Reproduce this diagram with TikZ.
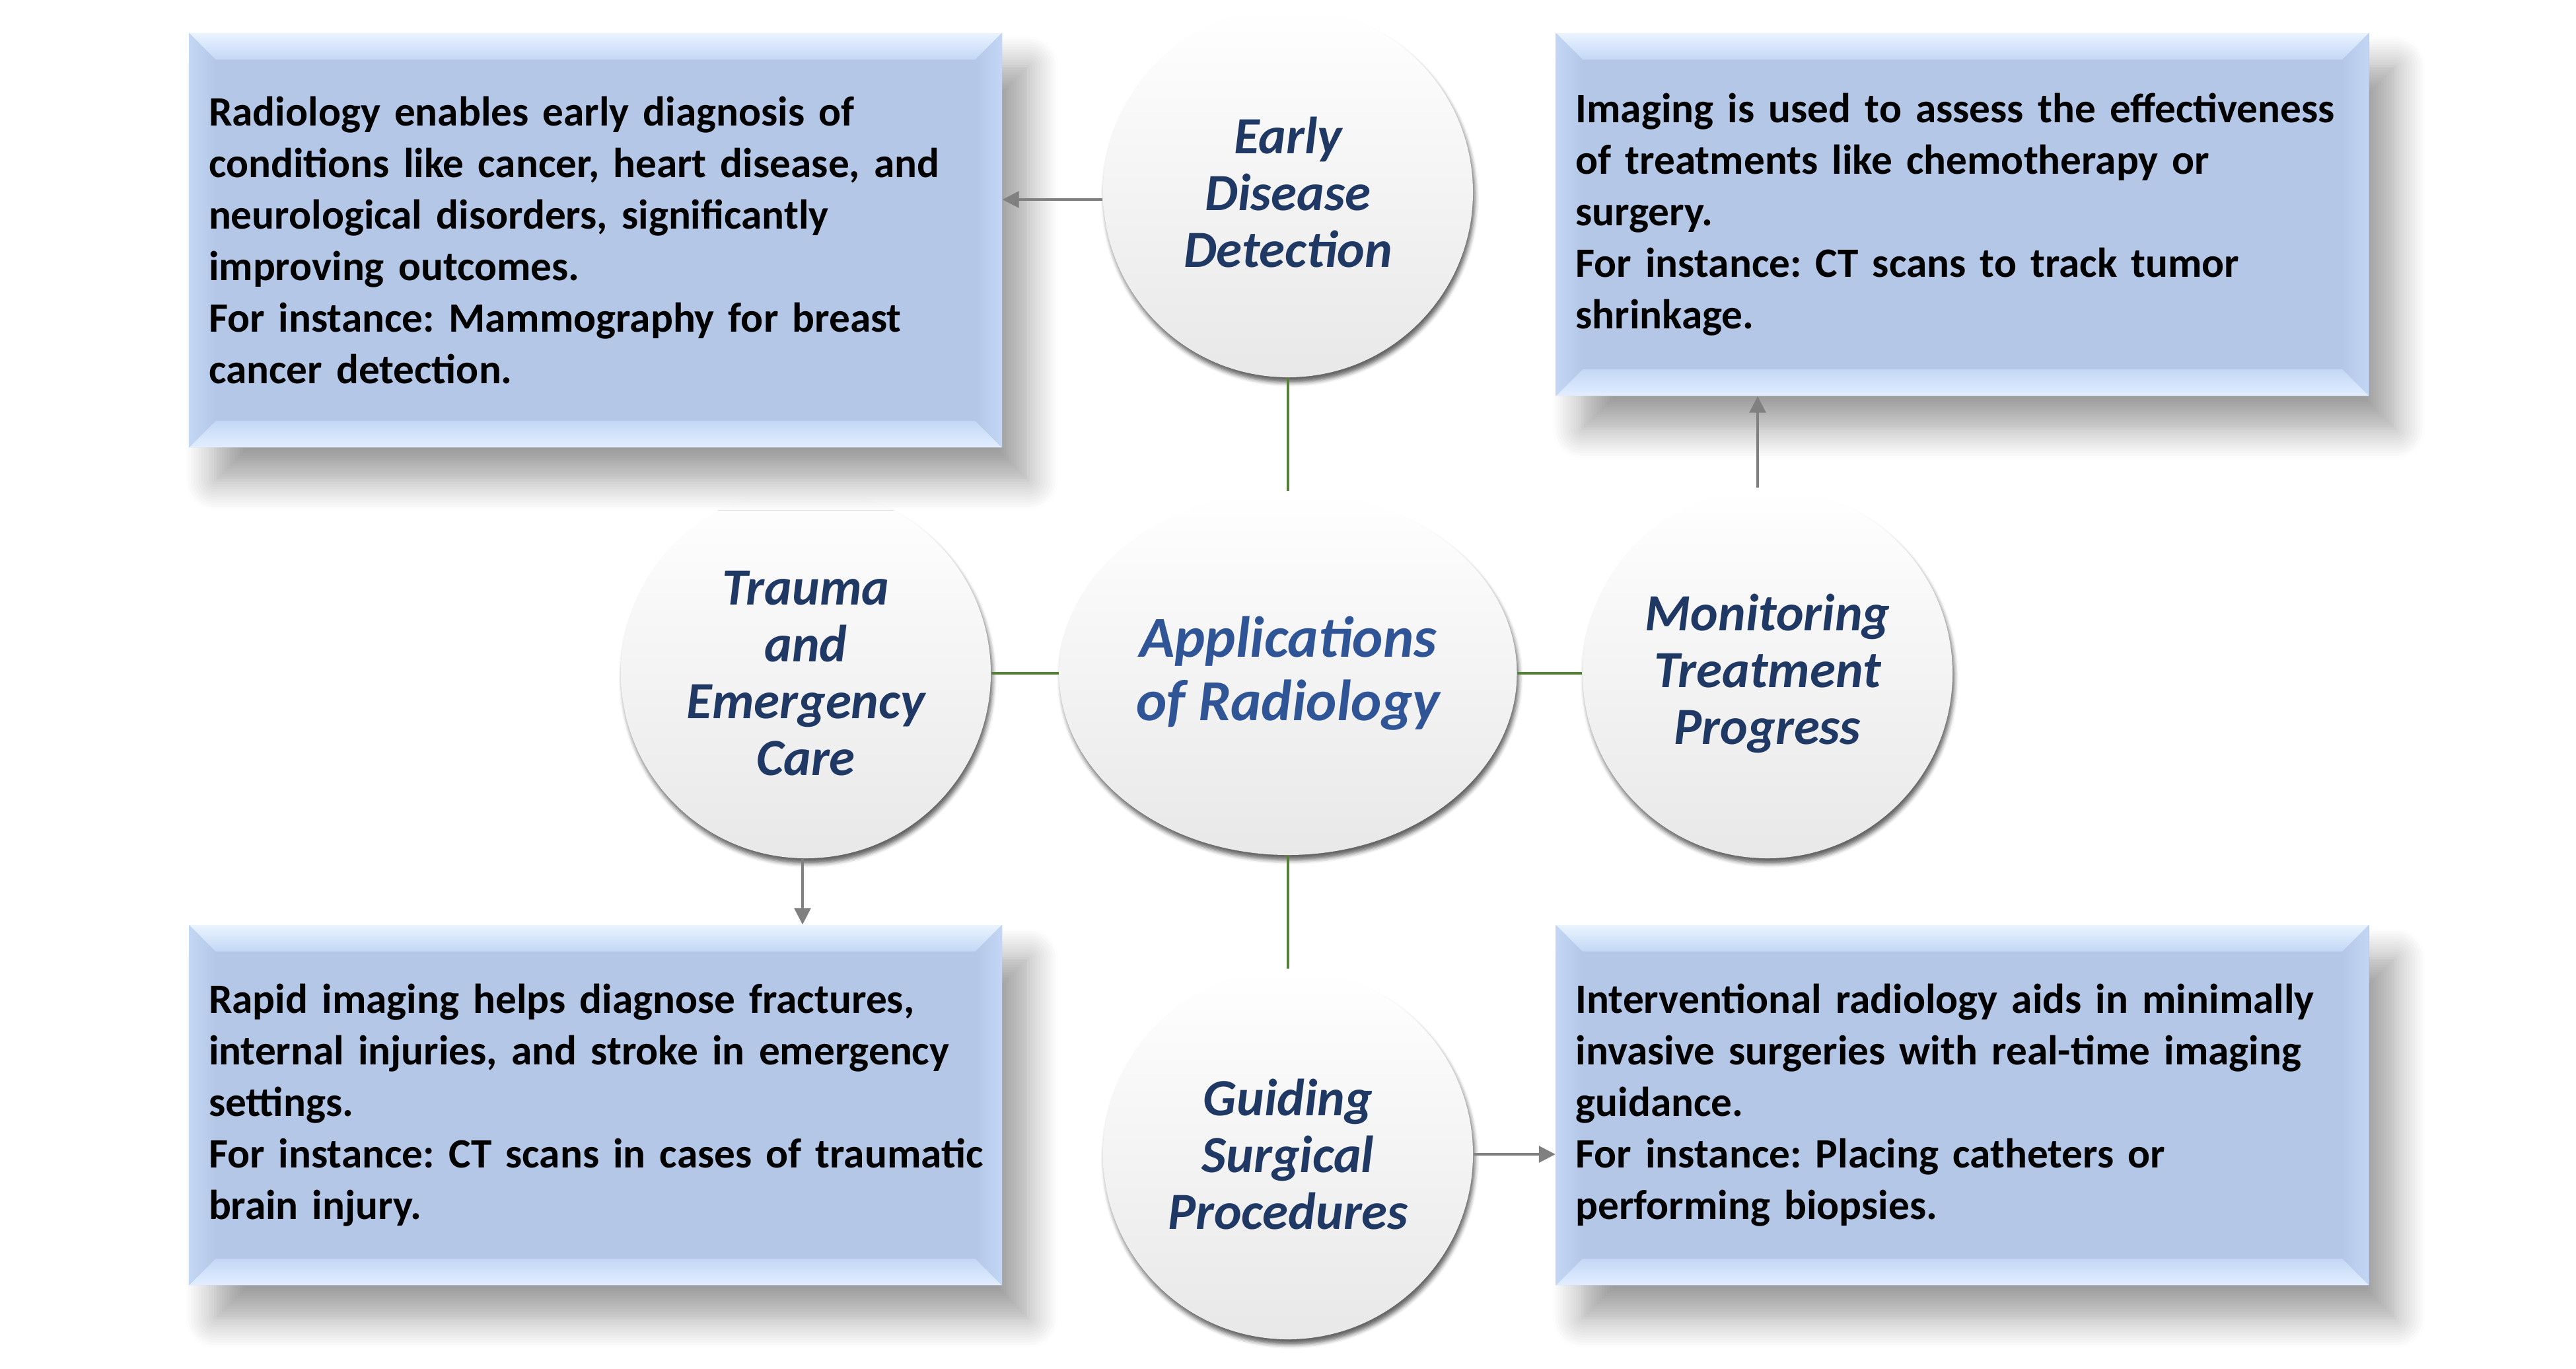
\documentclass[tikz,border=0pt]{standalone}
\usepackage{fontspec}
\setmainfont{Carlito}
\usetikzlibrary{shapes.geometric,arrows.meta,shadows.blur}
\definecolor{boxblue}{HTML}{B4C7E7}
\definecolor{bevtop}{HTML}{EAF4FF}
\definecolor{bevbot}{HTML}{E2EEFF}
\definecolor{bevside}{HTML}{C3D7F5}
\definecolor{navy}{HTML}{1F3864}
\definecolor{hubblue}{HTML}{2F5597}
\definecolor{linkgreen}{HTML}{548235}
\definecolor{arrgray}{HTML}{808080}
\tikzset{
  bubble/.style={circle, minimum size=5.6cm, inner sep=0pt, align=center,
    top color=white, middle color=white, bottom color=black!9,
    text=navy, font=\fontsize{22.5}{24.5}\selectfont\bfseries\itshape,
    blur shadow={shadow xshift=0.03cm, shadow yshift=-0.08cm, shadow blur radius=0.06cm, shadow opacity=60}},
  hubnode/.style={bubble, ellipse, minimum width=6.93cm, minimum height=5.5cm,
    text=hubblue, font=\fontsize{25}{27.5}\selectfont\bfseries\itshape},
  infobox/.style={rectangle, fill=boxblue, minimum width=12.31cm, inner xsep=0.3cm,
    text width=11.71cm, align=left, font=\fontsize{18}{22.2}\selectfont\bfseries,
    blur shadow={shadow xshift=0.4cm, shadow yshift=-0.5cm, shadow blur radius=0.45cm, shadow blur steps=12, shadow opacity=38},
    path picture={
      \path (path picture bounding box.north west) coordinate (pnw)
            (path picture bounding box.north east) coordinate (pne)
            (path picture bounding box.south west) coordinate (psw)
            (path picture bounding box.south east) coordinate (pse);
      \fill[top color=bevtop, bottom color=bevside] (pnw) -- (pne) -- ([shift={(-\bev,-\bev)}]pne) -- ([shift={(\bev,-\bev)}]pnw) -- cycle;
      \fill[top color=bevside, bottom color=bevbot] (psw) -- (pse) -- ([shift={(-\bev,\bev)}]pse) -- ([shift={(\bev,\bev)}]psw) -- cycle;
      \fill[left color=bevside, right color=boxblue] (pnw) -- ([shift={(\bev,-\bev)}]pnw) -- ([shift={(\bev,\bev)}]psw) -- (psw) -- cycle;
      \fill[left color=boxblue, right color=bevside] (pne) -- ([shift={(-\bev,-\bev)}]pne) -- ([shift={(-\bev,\bev)}]pse) -- (pse) -- cycle;
    }},
  link/.style={draw=linkgreen, line width=1.4pt},
  arr/.style={draw=arrgray, line width=0.9pt, -{Triangle[length=0.25cm, width=0.25cm]}}
}
\frenchspacing
\hfuzz=20pt
\begin{document}
\begin{tikzpicture}[line join=round]
		\def\bev{0.4cm}
		\def\cx{19.50} \def\cy{-10.19}
		\useasboundingbox (0,0) rectangle (39,-20.71);
		%\draw[gray!30] (0,0) grid (39,-21);
		\node[hubnode] (hub) at (\cx,\cy) {Applications\\of Radiology};
		\node[bubble] (early) at (\cx,-2.91) {Early\\Disease\\Detection};
		\node[bubble] (trauma) at (12.20,\cy) {Trauma\\and\\Emergency\\Care};
		\node[bubble] (monitor) at (26.76,\cy) {Monitoring\\Treatment\\Progress};
		\node[bubble] (guide) at (\cx,-17.47) {Guiding\\Surgical\\Procedures};
		\node[infobox, minimum height=6.27cm] (tl) at (9.015,-3.635) {Radiology enables early diagnosis of\\conditions like cancer, heart disease, and\\neurological disorders, significantly\\improving outcomes.\\For instance: Mammography for breast\\cancer detection.};
		\node[infobox, minimum height=5.49cm] (tr) at (29.71,-3.245) {Imaging is used to assess the effectiveness\\of treatments like chemotherapy or\\surgery.\\For instance: CT scans to track tumor\\shrinkage.};
		\node[infobox, minimum height=5.45cm] (bl) at (9.015,-16.725) {Rapid imaging helps diagnose fractures,\\internal injuries, and stroke in emergency\\settings.\\\mbox{For instance: CT scans in cases of traumatic}\\brain injury.};
		\node[infobox, minimum height=5.45cm] (br) at (29.71,-16.725) {Interventional radiology aids in minimally\\invasive surgeries with real-time imaging\\guidance.\\For instance: Placing catheters or\\performing biopsies.};
		\draw[link] (early) -- (hub);
		\draw[link] (trauma) -- (hub);
		\draw[link] (monitor) -- (hub);
		\draw[link] (guide) -- (hub);
		\draw[arr] ([yshift=-1.1mm]early.west) -- ([yshift=-1.1mm]early.west -| tl.east);
		\draw[arr] ([xshift=-0.5mm]trauma.south) -- ([xshift=-0.5mm]trauma.south |- bl.north);
		\draw[arr] ([xshift=-1.5mm]monitor.north) -- ([xshift=-1.5mm]monitor.north |- tr.south);
		\draw[arr] (guide.east) -- (guide.east -| br.west);
\end{tikzpicture}
\end{document}
